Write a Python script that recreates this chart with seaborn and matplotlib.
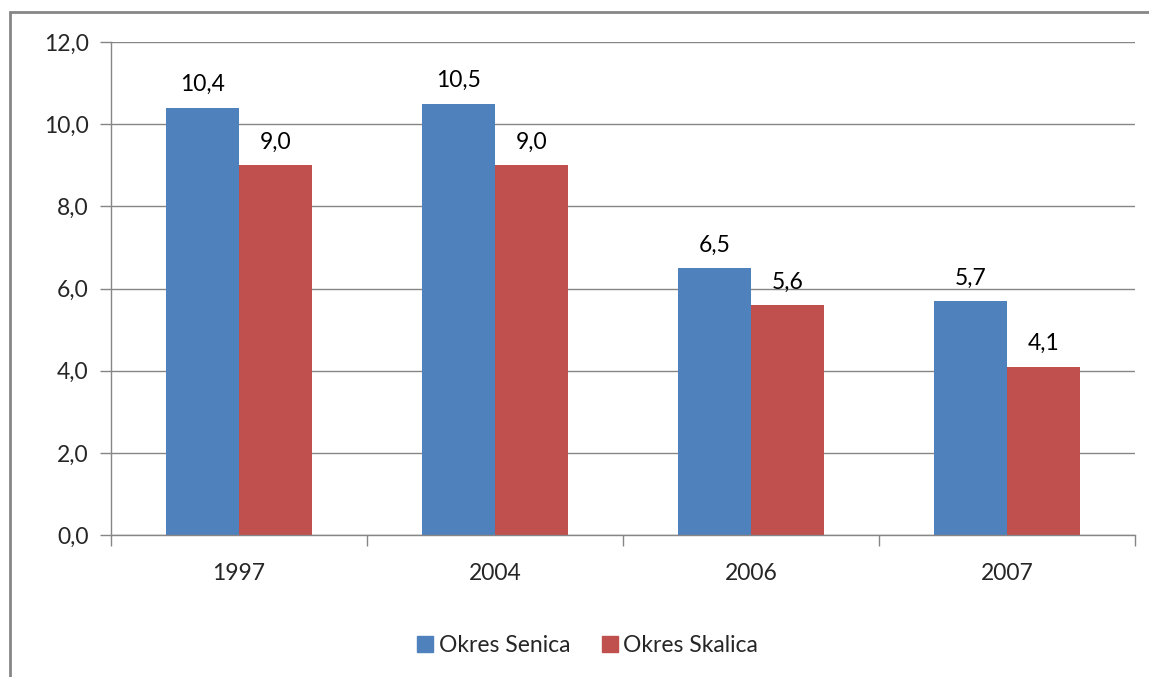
import numpy as np
import pandas as pd
import matplotlib
matplotlib.use("Agg")
import matplotlib.pyplot as plt
import seaborn as sns
from matplotlib.patches import Rectangle
from matplotlib.ticker import FuncFormatter, FixedLocator

# === DATA ===
years = ["1997", "2004", "2006", "2007"]
senica = [10.4, 10.5, 6.5, 5.7]
skalica = [9.0, 9.0, 5.6, 4.1]
series_names = ["Okres Senica", "Okres Skalica"]
colors = ["#4F81BD", "#C0504D"]

df = pd.DataFrame({
    "Rok": years * 2,
    "Hodnota": senica + skalica,
    "Okres": [series_names[0]] * len(years) + [series_names[1]] * len(years),
})

# === STYLE ===
sns.set_theme(style="white")
plt.rcParams["font.family"] = ["Lato", "DejaVu Sans"]
GRAY = "#868686"
FS = 16.5

fig = plt.figure(figsize=(11.49, 6.77), dpi=100)
ax = fig.add_axes([0.0966, 0.2097, 0.8912, 0.7282])

sns.barplot(data=df, x="Rok", y="Hodnota", hue="Okres", palette=colors,
            width=0.57, saturation=1, linewidth=0, ax=ax, legend=False)

# value labels
for cont in ax.containers:
    labs = [f"{b.get_height():.1f}".replace(".", ",") for b in cont]
    ax.bar_label(cont, labels=labs, padding=9, fontsize=FS, color="black")

# axes
ax.set_ylim(0, 12)
ax.set_xlim(-0.5, len(years) - 0.5)
ax.set_yticks(np.arange(0, 12.1, 2))
ax.yaxis.set_major_formatter(FuncFormatter(lambda v, p: f"{v:.1f}".replace(".", ",")))
ax.xaxis.set_minor_locator(FixedLocator(np.arange(-0.5, len(years), 1.0)))
ax.tick_params(axis="x", which="major", bottom=True, length=0, labelsize=FS, pad=20)
ax.tick_params(axis="x", which="minor", bottom=True, length=8, width=1, color=GRAY, direction="out")
ax.tick_params(axis="y", left=True, length=8, width=1, color=GRAY, direction="out",
               labelsize=FS, pad=8)
ax.yaxis.grid(True, color=GRAY, linewidth=1)
ax.set_axisbelow(True)
ax.set_xlabel("")
ax.set_ylabel("")
for s in ["top", "right"]:
    ax.spines[s].set_visible(False)
for s in ["left", "bottom"]:
    ax.spines[s].set_color(GRAY)
    ax.spines[s].set_linewidth(1)

# legend
handles = [plt.Line2D([], [], marker="s", linestyle="", markersize=11,
                      markerfacecolor=c, markeredgecolor=c) for c in colors]
fig.legend(handles, series_names, loc="center", bbox_to_anchor=(0.51, 0.047),
           ncol=2, frameon=False, fontsize=FS, handletextpad=0.1,
           columnspacing=1.2, handlelength=1.0)

# outer chart frame (cropped at right/bottom)
fig.patches.append(Rectangle((10 / 1149, -0.05), 1.1, (677 - 12) / 677 + 0.05,
                             transform=fig.transFigure, fill=False,
                             edgecolor=GRAY, linewidth=2))

fig.savefig("out.png", dpi=100)
